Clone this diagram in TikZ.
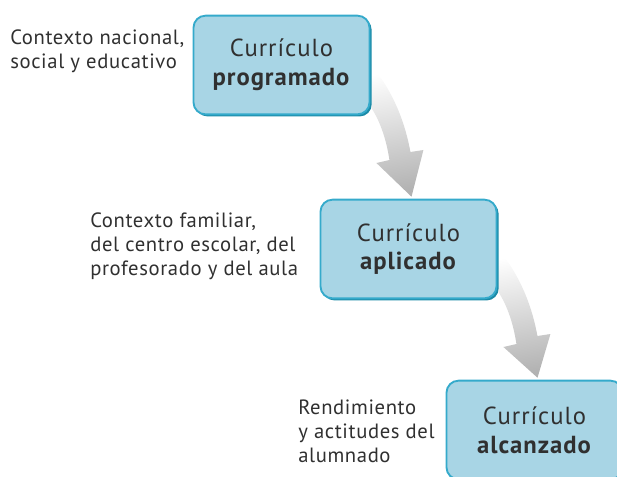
\documentclass[tikz,border=0pt]{standalone}
\usepackage{fontspec}
\setmainfont{PT Sans}
\usepackage{tikz}
\usetikzlibrary{positioning, shadows, calc, backgrounds}

\definecolor{boxfill}{HTML}{A8D5E5}
\definecolor{boxline}{HTML}{35AACB}
\definecolor{boxdark}{HTML}{1B8AA6}
\definecolor{txt}{HTML}{303030}

% curved grey arrow from the east side of one box down to the next box
\newcommand{\bigarrow}[2]{
\begin{scope}[shift={(#1.east)}]
\shade[top color=white, bottom color=black!30, shading angle=10]
  (1,0) .. controls (25,30) and (35,60) .. (40,87) -- (53,85)
  -- ($(#2.north)+(3,-2)$) -- (6,98) -- (19,95)
  .. controls (16,75) and (10,57) .. (1,43) -- cycle;
\end{scope}
}

\begin{document}
\begin{tikzpicture}[x=0.75pt, y=-0.75pt,
  curbox/.style={rounded corners=9pt, fill=boxfill, draw=boxline, line width=1.4pt,
    minimum width=132pt, minimum height=74pt, align=center, text=txt,
    font=\fontsize{18.5}{21.5}\selectfont\addfontfeatures{LetterSpace=4},
    drop shadow={shadow xshift=1.6pt, shadow yshift=-1.6pt, fill=boxdark, opacity=1}},
  ctxlabel/.style={anchor=west, align=left, text=txt, inner sep=0pt,
    font=\fontsize{15.5}{18}\selectfont\addfontfeatures{LetterSpace=3}}]

\useasboundingbox (0,0) rectangle (617,477);

%//the three boxes
\node [curbox] (prog) at (281.5,65) {Currículo\\\textbf{programado}};
\node [curbox] (apl) at (408.5,249) {Currículo\\\textbf{aplicado}};
\node [curbox] (alc) at (534.5,430) {Currículo\\\textbf{alcanzado}};

%//arrows behind the boxes
\begin{scope}[on background layer]
\bigarrow{prog}{apl}
\bigarrow{apl}{alc}
\end{scope}

%//context labels
\node [ctxlabel] (ctxnac) at (10,51) {Contexto nacional,\\social y educativo};
\node [ctxlabel] (ctxfam) at (90,246) {Contexto familiar,\\del centro escolar, del\\profesorado y del aula};
\node [ctxlabel] (rend) at (298,431) {Rendimiento\\y actitudes del\\alumnado};

\end{tikzpicture}
\end{document}
